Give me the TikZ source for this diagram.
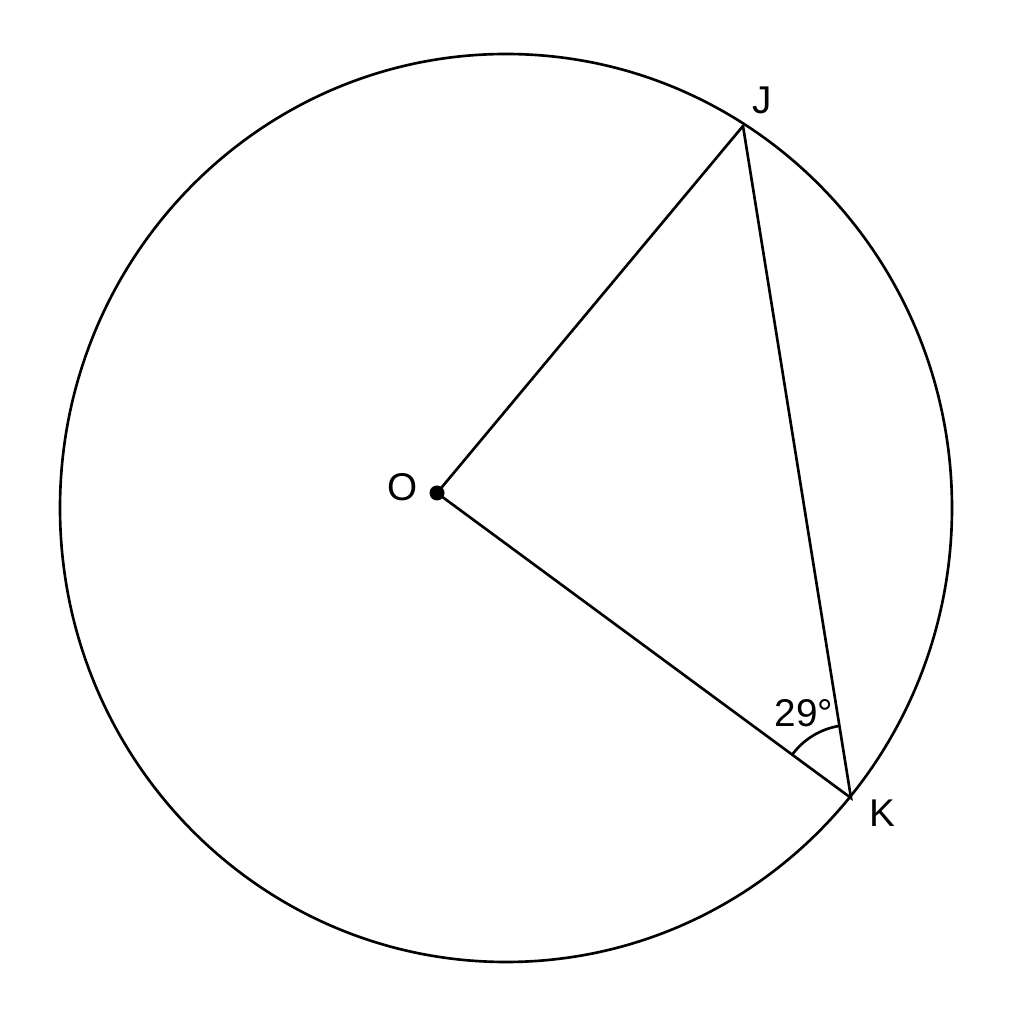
\documentclass[tikz,border=0pt]{standalone}
\usepackage{fontspec}
\setmainfont{Liberation Sans}
\usetikzlibrary{angles}
\begin{document}
\begin{tikzpicture}[x=0.01cm,y=0.01cm,
  seg/.style={line width=0.75pt},
  lbl/.style={font=\fontsize{11}{13}\selectfont, inner sep=0pt}]
\useasboundingbox (0,0) rectangle (1024,1024);
\coordinate (O) at (437,531);
\coordinate (J) at (743,898);
\coordinate (K) at (851,226);
\draw[seg] (506,516) ellipse [x radius=446, y radius=454];
\draw[seg] (O) -- (J) -- (K) -- cycle;
\pic[draw, seg, angle radius=0.73cm] {angle = J--K--O};
\fill (O) circle [radius=0.075cm];
\node[lbl] (lO) at (403,537) {O};
\node[lbl] (lJ) at (762,924) {J};
\node[lbl] (lK) at (882,211) {K};
\node[lbl] (la) at (804,311) {29°};
\end{tikzpicture}
\end{document}
